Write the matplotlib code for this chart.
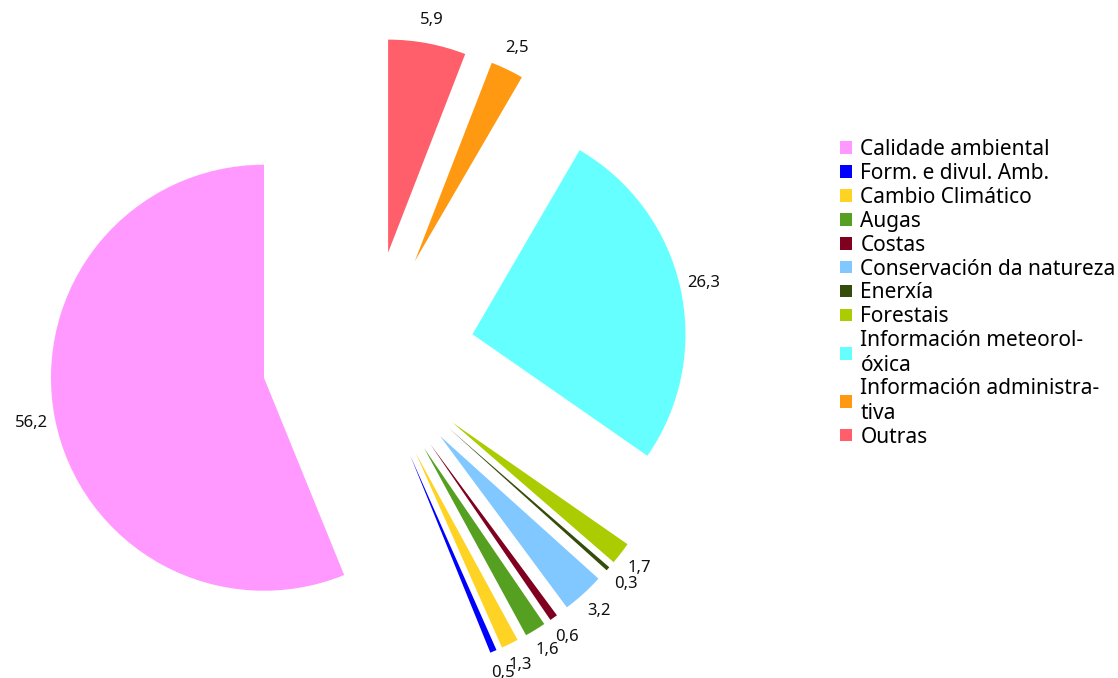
import matplotlib.pyplot as plt

# Data
categories = ['Calidade ambiental', 'Form. e divul. Amb.', 'Cambio Climático', 'Augas', 'Costas',
              'Conservación da natureza', 'Enerxía', 'Forestais', 'Información meteorol-\nóxica',
              'Información administra-\ntiva', 'Outras']
values = [56.2, 0.5, 1.3, 1.6, 0.6, 3.2, 0.3, 1.7, 26.3, 2.5, 5.9]
colors = ['#FF99FF', '#0000FF', '#FFD324', '#55A020', '#800020', '#80C8FF', '#354D0A', '#AACC00',
          '#66FFFF', '#FF9911', '#FF5F6A']

plt.rcParams['font.family'] = ['Noto Sans', 'DejaVu Sans']

fig = plt.figure(figsize=(11.18, 6.78), dpi=100)
ax = fig.add_axes([0, 0, 1, 1])

value_labels = [f'{v:.1f}'.replace('.', ',') for v in values]
wedges, texts = ax.pie(values, labels=value_labels, colors=colors, startangle=90,
                       counterclock=True, explode=[0.5] * len(values), labeldistance=1.11,
                       wedgeprops={'linewidth': 0}, textprops={'fontsize': 12, 'color': '#111111'})
for t in texts:
    t.set_horizontalalignment('center')
    t.set_verticalalignment('center')

# Put the pie where it sits in the picture (radius ~213 px)
r_px = 213
cx, cy = 368.5, 357.3
ax.set_xlim(-cx / r_px, (1118 - cx) / r_px)
ax.set_ylim(-(678 - cy) / r_px, cy / r_px)
ax.axis('off')

fig.legend(wedges, categories, loc='upper left', bbox_to_anchor=(0.7516, 0.795), frameon=False,
           fontsize=15, handlelength=0.55, handleheight=0.55, handletextpad=0.42,
           labelspacing=0.14, borderaxespad=0, borderpad=0)

plt.savefig('out.png', dpi=100)
